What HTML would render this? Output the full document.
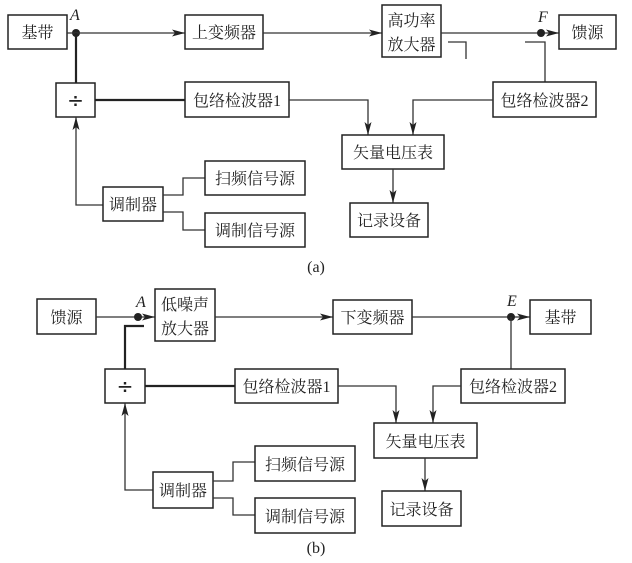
<!DOCTYPE html>
<html><head><meta charset="utf-8"><style>
html,body{margin:0;padding:0;background:#fff;}
svg{display:block;}
text{font-family:"Liberation Serif","Noto Serif CJK SC","Noto Sans CJK SC",serif;font-size:16px;fill:#222;}
.b{fill:#fff;stroke:#222;stroke-width:1.5;}
.l{fill:none;stroke:#333;stroke-width:1.3;}
.t{fill:none;stroke:#222;stroke-width:2.2;}
.d{font-family:"DejaVu Sans",sans-serif;font-size:20px;}
</style></head><body>
<svg width="632" height="563" viewBox="0 0 632 563" xmlns="http://www.w3.org/2000/svg">
<defs><marker id="a" markerWidth="14" markerHeight="8" refX="13" refY="4" orient="auto" markerUnits="userSpaceOnUse"><path d="M0,0.5 L13,4 L0,7.5 L3,4 Z" fill="#222"/></marker></defs>
<!-- (a) -->
<rect class="b" x="8" y="15" width="59" height="34"/><text x="37.5" y="38" text-anchor="middle">基带</text>
<text x="70" y="20" font-style="italic" font-size="13">A</text>
<circle cx="76" cy="33" r="4" fill="#222"/>
<line class="l" x1="67" y1="33" x2="185" y2="33" marker-end="url(#a)"/>
<rect class="b" x="185" y="15" width="78" height="34"/><text x="224" y="38" text-anchor="middle">上变频器</text>
<line class="l" x1="263" y1="33" x2="382" y2="33" marker-end="url(#a)"/>
<rect class="b" x="382" y="5" width="59" height="52"/><text x="411.5" y="26" text-anchor="middle">高功率</text><text x="411.5" y="50" text-anchor="middle">放大器</text>
<line class="l" x1="441" y1="33" x2="559" y2="33" marker-end="url(#a)"/>
<circle cx="541" cy="33" r="4" fill="#222"/>
<text x="538" y="22" font-style="italic" font-size="13">F</text>
<rect class="b" x="559" y="15" width="57" height="34"/><text x="587.5" y="38" text-anchor="middle">馈源</text>
<polyline class="l" points="448,42 466,42 466,59"/>
<polyline class="l" points="525,42 545,42 545,82"/>
<line class="t" x1="76" y1="33" x2="76" y2="83"/>
<rect class="b" x="56" y="83" width="39" height="34"/><text x="75.5" y="107" text-anchor="middle" class="d">÷</text>
<line class="t" x1="95" y1="100" x2="185" y2="100"/>
<rect class="b" x="185" y="82" width="104" height="35"/><text x="237" y="106" text-anchor="middle">包络检波器1</text>
<polyline class="l" points="289,100 368,100 368,135" marker-end="url(#a)"/>
<rect class="b" x="493" y="82" width="103" height="35"/><text x="544.5" y="106" text-anchor="middle">包络检波器2</text>
<polyline class="l" points="493,100 413,100 413,135" marker-end="url(#a)"/>
<rect class="b" x="342" y="135" width="102" height="34"/><text x="393" y="158" text-anchor="middle">矢量电压表</text>
<line class="l" x1="393" y1="169" x2="393" y2="203" marker-end="url(#a)"/>
<rect class="b" x="350" y="203" width="78" height="34"/><text x="389" y="226" text-anchor="middle">记录设备</text>
<polyline class="l" points="103,205 76,205 76,117" marker-end="url(#a)"/>
<rect class="b" x="103" y="187" width="60" height="34"/><text x="133" y="210" text-anchor="middle">调制器</text>
<polyline class="l" points="163,195 183,195 183,178 205,178"/>
<polyline class="l" points="163,212 183,212 183,230 205,230"/>
<rect class="b" x="205" y="161" width="100" height="34"/><text x="255" y="184" text-anchor="middle">扫频信号源</text>
<rect class="b" x="205" y="213" width="100" height="34"/><text x="255" y="236" text-anchor="middle">调制信号源</text>
<text x="316" y="272" text-anchor="middle" font-size="13">(a)</text>
<!-- (b) -->
<rect class="b" x="37" y="299" width="59" height="35"/><text x="66.5" y="323" text-anchor="middle">馈源</text>
<line class="l" x1="96" y1="317" x2="155" y2="317" marker-end="url(#a)"/>
<circle cx="138" cy="317" r="4" fill="#222"/>
<text x="136" y="307" font-style="italic" font-size="13">A</text>
<rect class="b" x="155" y="289" width="60" height="52"/><text x="185" y="310" text-anchor="middle">低噪声</text><text x="185" y="334" text-anchor="middle">放大器</text>
<line class="l" x1="215" y1="317" x2="333" y2="317" marker-end="url(#a)"/>
<rect class="b" x="333" y="300" width="79" height="34"/><text x="372.5" y="323" text-anchor="middle">下变频器</text>
<line class="l" x1="412" y1="317" x2="530" y2="317" marker-end="url(#a)"/>
<circle cx="511" cy="317" r="4" fill="#222"/>
<text x="507" y="306" font-style="italic" font-size="13">E</text>
<rect class="b" x="530" y="300" width="61" height="34"/><text x="560.5" y="323" text-anchor="middle">基带</text>
<line class="l" x1="511" y1="317" x2="511" y2="369"/>
<polyline class="t" points="144,326 125,326 125,369"/>
<rect class="b" x="105" y="369" width="40" height="34"/><text x="125" y="393" text-anchor="middle" class="d">÷</text>
<line class="t" x1="145" y1="386" x2="235" y2="386"/>
<rect class="b" x="235" y="369" width="103" height="34"/><text x="286.5" y="392" text-anchor="middle">包络检波器1</text>
<polyline class="l" points="338,386 396,386 396,423" marker-end="url(#a)"/>
<rect class="b" x="461" y="369" width="104" height="34"/><text x="513" y="392" text-anchor="middle">包络检波器2</text>
<polyline class="l" points="461,386 433,386 433,423" marker-end="url(#a)"/>
<rect class="b" x="374" y="423" width="103" height="35"/><text x="425.5" y="447" text-anchor="middle">矢量电压表</text>
<line class="l" x1="425" y1="458" x2="425" y2="491" marker-end="url(#a)"/>
<rect class="b" x="382" y="491" width="79" height="35"/><text x="421.5" y="515" text-anchor="middle">记录设备</text>
<polyline class="l" points="153,490 125,490 125,403" marker-end="url(#a)"/>
<rect class="b" x="153" y="472" width="60" height="36"/><text x="183" y="496" text-anchor="middle">调制器</text>
<polyline class="l" points="213,481 233,481 233,462 255,462"/>
<polyline class="l" points="213,498 233,498 233,515 255,515"/>
<rect class="b" x="255" y="446" width="100" height="35"/><text x="305" y="470" text-anchor="middle">扫频信号源</text>
<rect class="b" x="255" y="498" width="100" height="35"/><text x="305" y="522" text-anchor="middle">调制信号源</text>
<text x="316" y="553" text-anchor="middle" font-size="13">(b)</text>
</svg>
</body></html>
